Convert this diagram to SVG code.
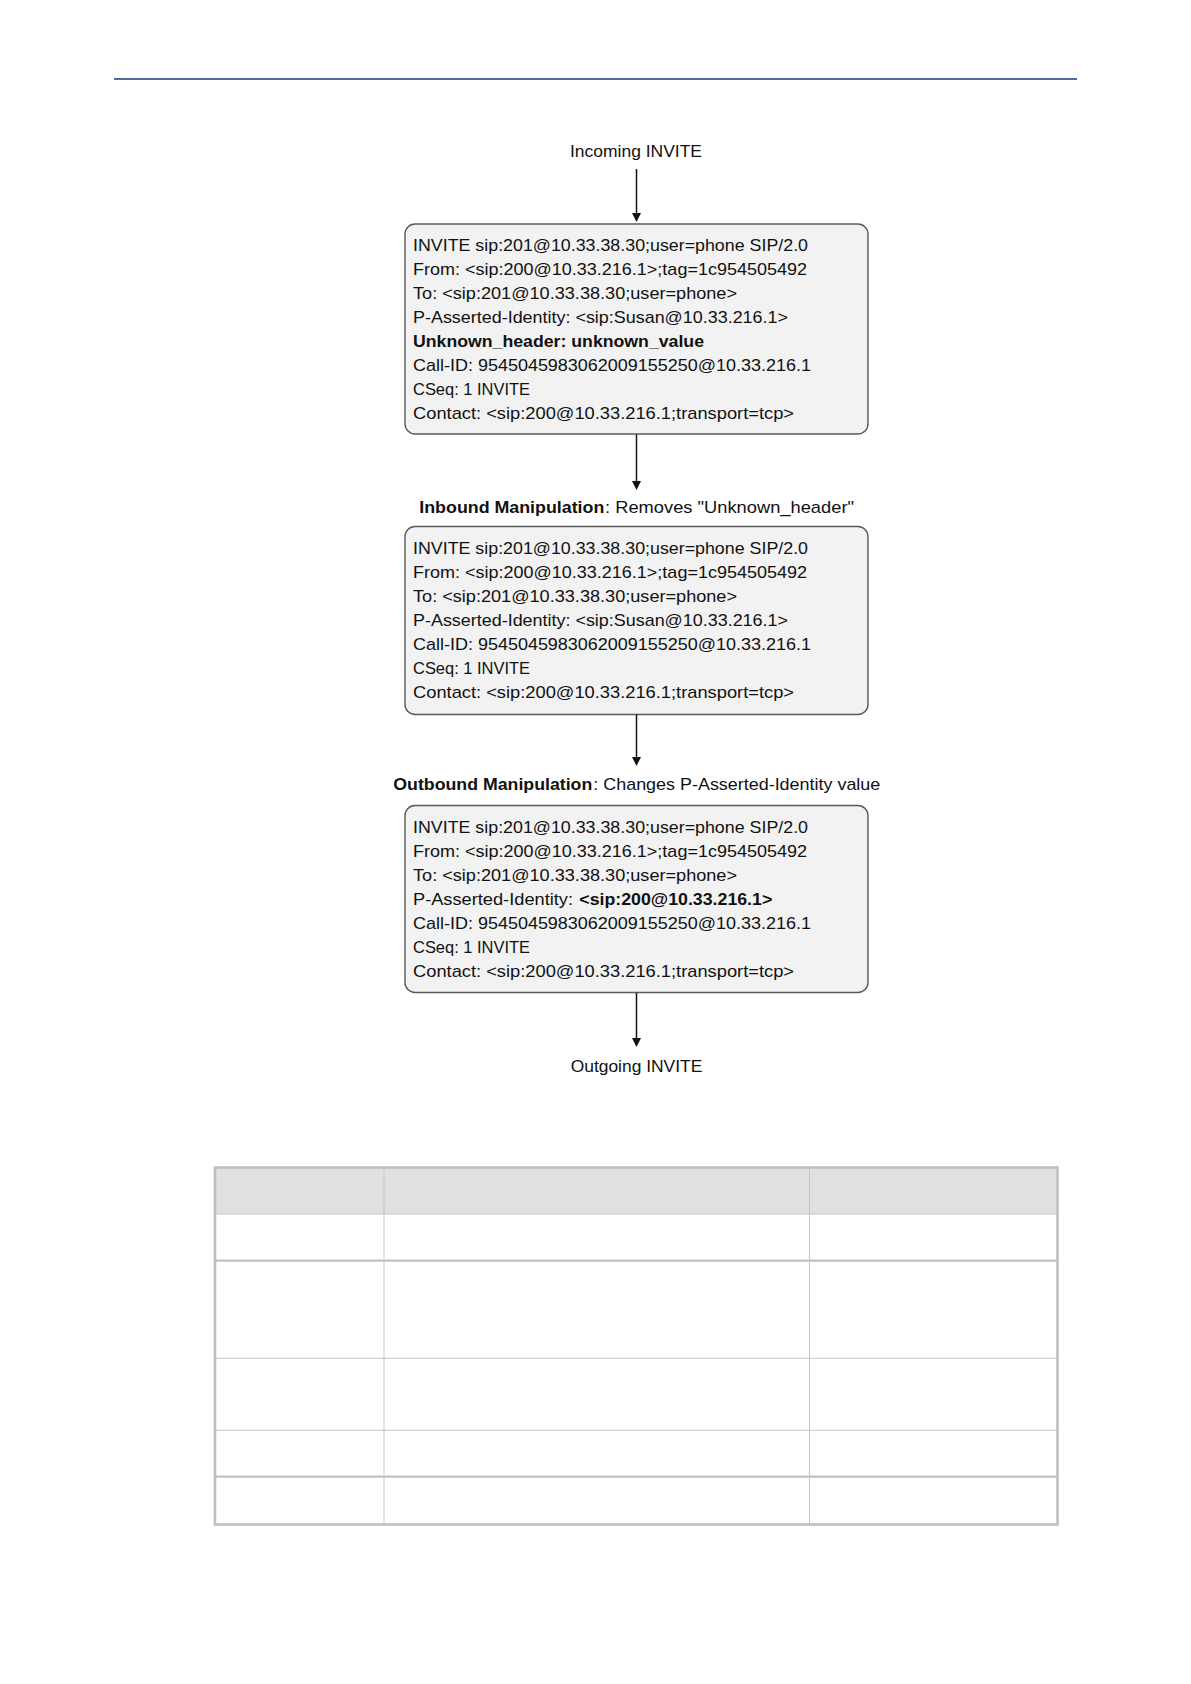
<svg xmlns="http://www.w3.org/2000/svg" width="1191" height="1684" viewBox="0 0 1191 1684">
<style>
text{font-family:"Liberation Sans",Arial,sans-serif;font-size:17px;fill:#111}
.b{font-weight:bold}
.box{fill:#f2f2f2;stroke:#595959;stroke-width:1.4}
.conn{stroke:#111;stroke-width:1.5;fill:none}
.thin{stroke:#c6c6c6;stroke-width:1}
.thick{stroke:#c0c0c0;stroke-width:2.2}
</style>
<defs>
<marker id="ah" viewBox="0 0 10 10" refX="4" refY="5" markerWidth="10" markerHeight="10" markerUnits="userSpaceOnUse" orient="auto">
<path d="M0,0.5 L9,5 L0,9.5 z" fill="#111"/>
</marker>
</defs>
<rect width="1191" height="1684" fill="#fff"/>
<line x1="114" y1="79" x2="1077" y2="79" stroke="#4a6d9b" stroke-width="2"/>

<g id="incoming">
<text x="570" y="157" textLength="132" lengthAdjust="spacingAndGlyphs">Incoming INVITE</text>
</g>

<g id="box1">
<rect class="box" x="405" y="224" width="463" height="210" rx="10"/>
<text x="413" y="250.7" textLength="395" lengthAdjust="spacingAndGlyphs">INVITE sip:201@10.33.38.30;user=phone SIP/2.0</text>
<text x="413" y="274.7" textLength="394" lengthAdjust="spacingAndGlyphs">From: &lt;sip:200@10.33.216.1&gt;;tag=1c954505492</text>
<text x="413" y="298.7" textLength="324" lengthAdjust="spacingAndGlyphs">To: &lt;sip:201@10.33.38.30;user=phone&gt;</text>
<text x="413" y="322.7" textLength="375" lengthAdjust="spacingAndGlyphs">P-Asserted-Identity: &lt;sip:Susan@10.33.216.1&gt;</text>
<text class="b" x="413" y="346.7" textLength="291" lengthAdjust="spacingAndGlyphs">Unknown_header: unknown_value</text>
<text x="413" y="370.7" textLength="398" lengthAdjust="spacingAndGlyphs">Call-ID: 9545045983062009155250@10.33.216.1</text>
<text x="413" y="394.7" textLength="117" lengthAdjust="spacingAndGlyphs">CSeq: 1 INVITE</text>
<text x="413" y="418.7" textLength="381" lengthAdjust="spacingAndGlyphs">Contact: &lt;sip:200@10.33.216.1;transport=tcp&gt;</text>
</g>

<g id="inbound-label">
<text class="b" x="419.3" y="513.3" textLength="185" lengthAdjust="spacingAndGlyphs">Inbound Manipulation</text>
<text x="605" y="513.3" textLength="249" lengthAdjust="spacingAndGlyphs">: Removes "Unknown_header"</text>
</g>

<g id="box2">
<rect class="box" x="405" y="526.5" width="463" height="188" rx="10"/>
<text x="413" y="554.3" textLength="395" lengthAdjust="spacingAndGlyphs">INVITE sip:201@10.33.38.30;user=phone SIP/2.0</text>
<text x="413" y="578.3" textLength="394" lengthAdjust="spacingAndGlyphs">From: &lt;sip:200@10.33.216.1&gt;;tag=1c954505492</text>
<text x="413" y="602.3" textLength="324" lengthAdjust="spacingAndGlyphs">To: &lt;sip:201@10.33.38.30;user=phone&gt;</text>
<text x="413" y="626.3" textLength="375" lengthAdjust="spacingAndGlyphs">P-Asserted-Identity: &lt;sip:Susan@10.33.216.1&gt;</text>
<text x="413" y="650.3" textLength="398" lengthAdjust="spacingAndGlyphs">Call-ID: 9545045983062009155250@10.33.216.1</text>
<text x="413" y="674.3" textLength="117" lengthAdjust="spacingAndGlyphs">CSeq: 1 INVITE</text>
<text x="413" y="698.3" textLength="381" lengthAdjust="spacingAndGlyphs">Contact: &lt;sip:200@10.33.216.1;transport=tcp&gt;</text>
</g>

<g id="outbound-label">
<text class="b" x="393.3" y="790" textLength="199" lengthAdjust="spacingAndGlyphs">Outbound Manipulation</text>
<text x="593.3" y="790" textLength="287" lengthAdjust="spacingAndGlyphs">: Changes P-Asserted-Identity value</text>
</g>

<g id="box3">
<rect class="box" x="405" y="805.5" width="463" height="187" rx="10"/>
<text x="413" y="832.7" textLength="395" lengthAdjust="spacingAndGlyphs">INVITE sip:201@10.33.38.30;user=phone SIP/2.0</text>
<text x="413" y="856.7" textLength="394" lengthAdjust="spacingAndGlyphs">From: &lt;sip:200@10.33.216.1&gt;;tag=1c954505492</text>
<text x="413" y="880.7" textLength="324" lengthAdjust="spacingAndGlyphs">To: &lt;sip:201@10.33.38.30;user=phone&gt;</text>
<text x="413" y="904.7" textLength="160" lengthAdjust="spacingAndGlyphs">P-Asserted-Identity:</text>
<text class="b" x="579.3" y="904.7" textLength="193" lengthAdjust="spacingAndGlyphs">&lt;sip:200@10.33.216.1&gt;</text>
<text x="413" y="928.7" textLength="398" lengthAdjust="spacingAndGlyphs">Call-ID: 9545045983062009155250@10.33.216.1</text>
<text x="413" y="952.7" textLength="117" lengthAdjust="spacingAndGlyphs">CSeq: 1 INVITE</text>
<text x="413" y="976.7" textLength="381" lengthAdjust="spacingAndGlyphs">Contact: &lt;sip:200@10.33.216.1;transport=tcp&gt;</text>
</g>

<g id="outgoing">
<text x="570.7" y="1071.7" textLength="131.6" lengthAdjust="spacingAndGlyphs">Outgoing INVITE</text>
</g>

<g id="connectors">
<line class="conn" x1="636.5" y1="169" x2="636.5" y2="217" marker-end="url(#ah)"/>
<line class="conn" x1="636.5" y1="434.5" x2="636.5" y2="485" marker-end="url(#ah)"/>
<line class="conn" x1="636.5" y1="714.5" x2="636.5" y2="761" marker-end="url(#ah)"/>
<line class="conn" x1="636.5" y1="993" x2="636.5" y2="1042" marker-end="url(#ah)"/>
</g>

<g id="table">
<rect x="215" y="1167.5" width="842.5" height="46.5" fill="#e0e0e0"/>
<line class="thin" x1="215" y1="1214" x2="1057.5" y2="1214"/>
<line class="thick" x1="215" y1="1260.7" x2="1057.5" y2="1260.7" stroke-width="2"/>
<line class="thin" x1="215" y1="1358.3" x2="1057.5" y2="1358.3"/>
<line class="thin" x1="215" y1="1430.3" x2="1057.5" y2="1430.3"/>
<line class="thick" x1="215" y1="1476.7" x2="1057.5" y2="1476.7" stroke-width="2"/>
<line class="thin" x1="384" y1="1167.5" x2="384" y2="1524.5" stroke-width="1.6"/>
<line class="thin" x1="809.5" y1="1167.5" x2="809.5" y2="1524.5"/>
<rect x="215" y="1167.5" width="842.5" height="357" fill="none" stroke="#c0c0c0" stroke-width="2.6"/>
</g>
</svg>
